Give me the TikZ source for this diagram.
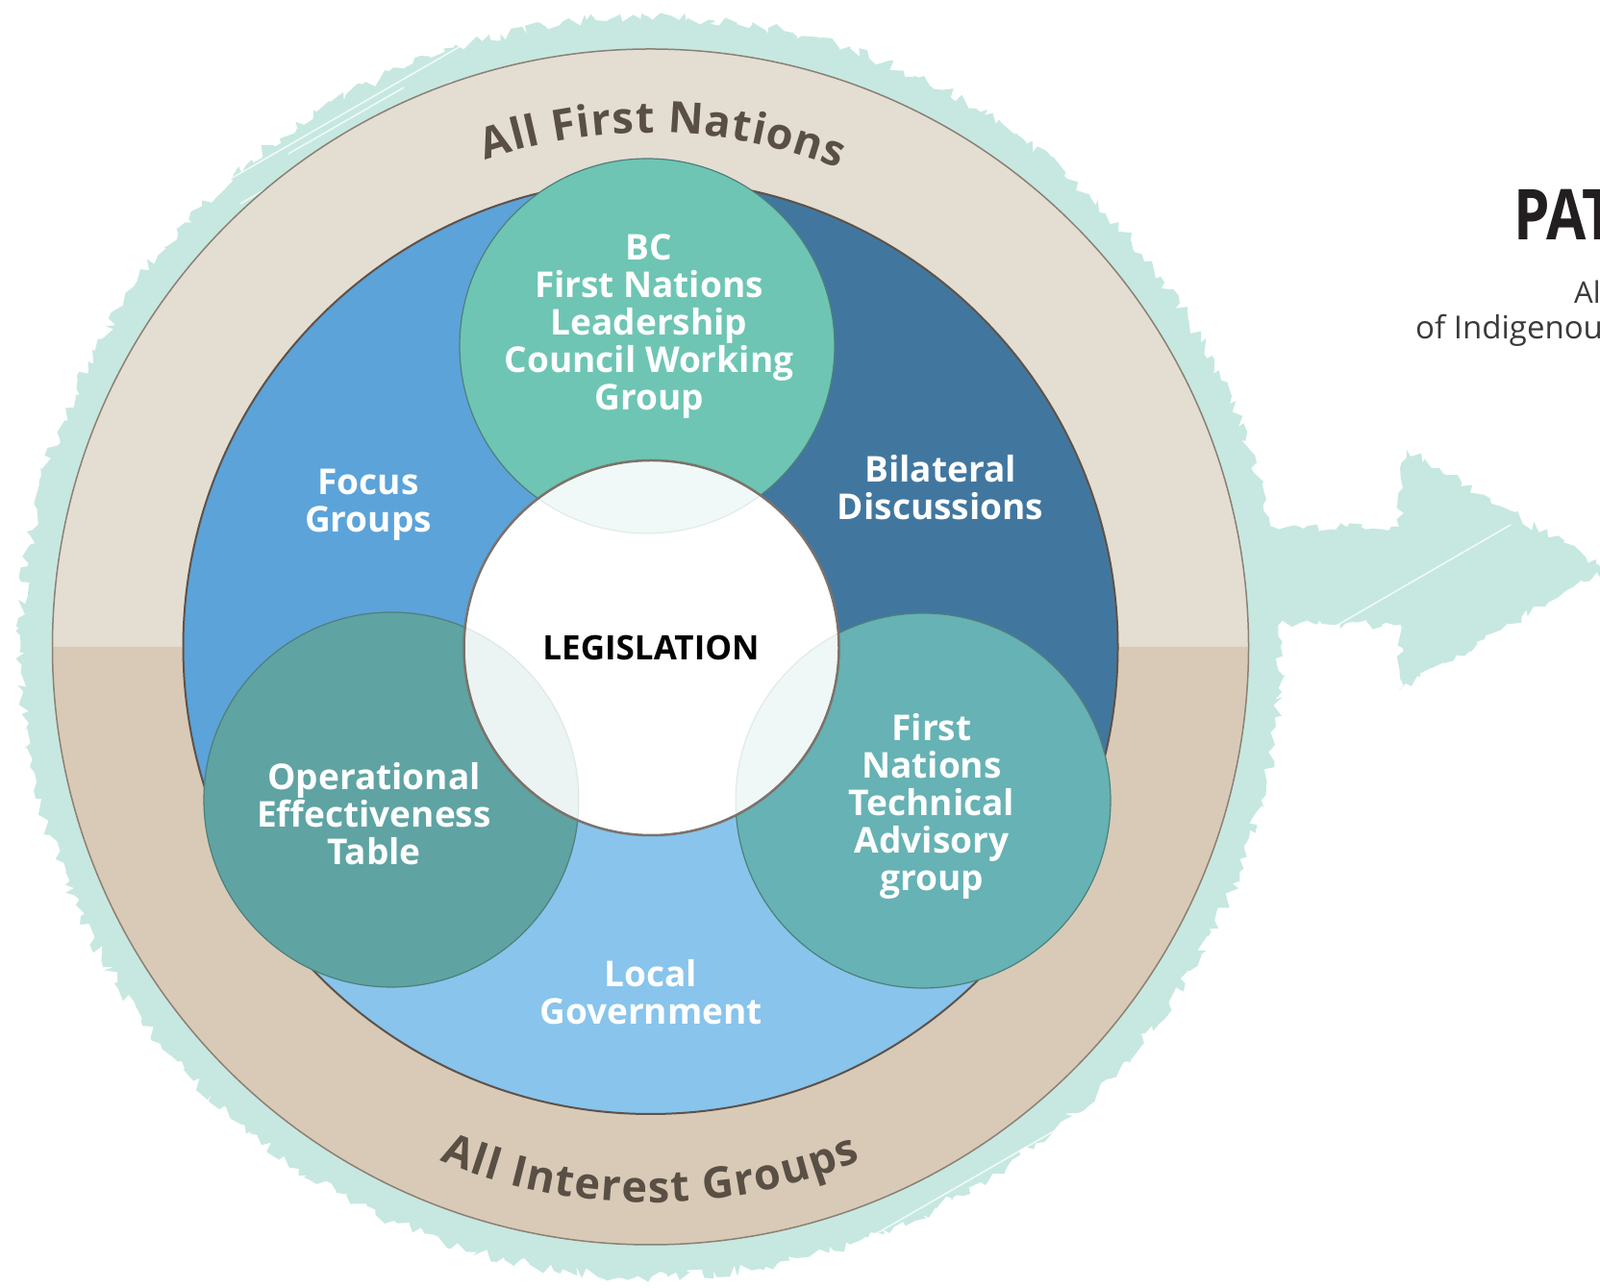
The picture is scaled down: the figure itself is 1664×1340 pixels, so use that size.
\documentclass[tikz,border=0pt]{standalone}
\usepackage{fontspec}
\setmainfont{Open Sans}
\usetikzlibrary{calc,decorations.pathmorphing}
\definecolor{mint}{HTML}{C6E8E0}
\definecolor{ringtop}{HTML}{E4DDD2}
\definecolor{ringbot}{HTML}{D8CAB6}
\definecolor{ringline}{HTML}{8C8075}
\definecolor{ringtxt}{HTML}{5A4F45}
\definecolor{bluemid}{HTML}{5BA3D9}
\definecolor{bluedark}{HTML}{41779F}
\definecolor{bluelight}{HTML}{88C4EC}
\definecolor{diskline}{HTML}{5E5249}
\definecolor{tealtop}{HTML}{6EC5B3}
\definecolor{tealleft}{HTML}{5FA3A3}
\definecolor{tealright}{HTML}{66B2B4}
\definecolor{tealline}{HTML}{4F7F7A}
\definecolor{centerline}{HTML}{7D716A}
\definecolor{titletxt}{HTML}{231F20}
\definecolor{subtxt}{HTML}{3A3A3A}
\newlength\rtlen
\newcommand{\ringfont}{\fontsize{45}{52}\selectfont\bfseries}
% measure: #1 font, #2 extra spacing, #3 chars, #4 key
\newcommand{\ringprep}[4]{%
  \gdef\rtw{0}%
  \foreach \ch [count=\k] in {#3}{%
    \settowidth\rtlen{#1\ch}%
    \pgfmathsetmacro\rtmid{\rtw+\rtlen/2}%
    \expandafter\xdef\csname rt#4-\k\endcsname{\rtmid}%
    \pgfmathsetmacro\rtnew{\rtw+\rtlen+#2}%
    \global\let\rtw\rtnew
  }%
  \pgfmathsetmacro\rtfull{\rtw-#2}%
  \expandafter\xdef\csname rt#4tot\endcsname{\rtfull}%
}
% place: #1 font, #2 radius, #3 centre angle, #4 chars, #5 dir (1 top, -1 bottom), #6 key
\newcommand{\ringtext}[6]{%
  \foreach \ch [count=\k] in {#4}{%
    \expandafter\let\expandafter\rtmidv\csname rt#6-\k\endcsname
    \expandafter\let\expandafter\rttotv\csname rt#6tot\endcsname
    \pgfmathsetmacro\rtang{#3+#5*(\rttotv/2-\rtmidv)/#2*180/pi}%
    \pgfmathsetmacro\rtrot{\rtang-#5*90}%
    \node[ringlbl, rotate=\rtrot, anchor=base] (#6-\k) at ($(C)+(\rtang:#2)$) {#1\ch};
  }%
}
\tikzset{
  ringlbl/.style={text=ringtxt, inner sep=0pt, outer sep=0pt},
  lbl/.style={text=white, font=\fontsize{37}{39}\selectfont\bfseries, align=center, inner sep=0pt},
  smallc/.style={draw=tealline, line width=1.2pt},
  streak/.style={white, line width=1.6pt, opacity=0.75, line cap=round},
}
\begin{document}%
\ringprep{\ringfont}{1}{A,l,l,\ ,F,i,r,s,t,\ ,N,a,t,i,o,n,s}{afn}%
\ringprep{\ringfont}{1.5}{A,l,l,\ ,I,n,t,e,r,e,s,t,\ ,G,r,o,u,p,s}{aig}%
\begin{tikzpicture}[x=1pt,y=1pt]
\useasboundingbox (0,0) rectangle (1664,1340);
\fill[white] (0,0) rectangle (1664,1340);
\coordinate (C) at (676.5,667);
% sketchy mint background circle and arrow
\fill[mint, decorate, decoration={random steps, segment length=6pt, amplitude=6pt}]
  (C) circle[radius=655];
\fill[mint, decorate, decoration={random steps, segment length=6pt, amplitude=5pt}]
  (1250,792) -- (1455,792) -- (1463,872) -- (1669,748) -- (1455,622) -- (1457,690) -- (1250,690) -- cycle;
% white streaks
\draw[streak] (226,1146) -- (486,1296);
\draw[streak] (250,1128) -- (470,1255);
\draw[streak] (300,1180) -- (420,1249);
\draw[streak] (900,50) -- (1120,177);
\draw[streak] (950,60) -- (1100,147);
\draw[streak] (1369,677) -- (1571,794);
% outer ring
\fill[ringtop] ($(C)+(622,0)$) arc[start angle=0, end angle=180, radius=622] -- cycle;
\fill[ringbot] ($(C)+(-622,0)$) arc[start angle=180, end angle=360, radius=622] -- cycle;
\draw[ringline, line width=1.5pt] (C) circle[radius=622];
% blue disk sectors
\fill[bluemid] (C) -- ($(C)+(90:486)$) arc[start angle=90, end angle=210, radius=486] -- cycle;
\fill[bluedark] (C) -- ($(C)+(-30:486)$) arc[start angle=-30, end angle=90, radius=486] -- cycle;
\fill[bluelight] (C) -- ($(C)+(210:486)$) arc[start angle=210, end angle=330, radius=486] -- cycle;
\draw[diskline, line width=2pt] (C) circle[radius=486];
% small circles
\coordinate (T) at (673,980);
\coordinate (L) at (407,508);
\coordinate (R) at (960,507);
\coordinate (M) at (677.5,666);
\fill[tealtop, smallc] (T) circle[radius=195];
\fill[tealleft, smallc] (L) circle[radius=195];
\fill[tealright, smallc] (R) circle[radius=195];
% centre circle
\fill[white] (M) circle[radius=195];
\begin{scope}
  \clip (M) circle[radius=195];
  \fill[tealtop, opacity=0.1] (T) circle[radius=195];
  \fill[tealleft, opacity=0.12] (L) circle[radius=195];
  \fill[tealright, opacity=0.1] (R) circle[radius=195];
  \draw[tealline, opacity=0.12, line width=1.2pt] (T) circle[radius=195] (L) circle[radius=195] (R) circle[radius=195];
\end{scope}
\draw[centerline, line width=2.5pt] (M) circle[radius=195];
% labels
\node[lbl] (bc) at (675,1000) {BC\\First Nations\\Leadership\\Council Working\\Group};
\node[lbl] (focus) at (383,815) {Focus\\Groups};
\node[lbl] (bilat) at (978,833) {Bilateral\\Discussions};
\node[inner sep=0pt, font=\fontsize{35}{40}\selectfont\bfseries, text=black] (leg) at (677,666) {LEGISLATION};
\node[lbl] (oper) at (389,493) {Operational\\Effectiveness\\Table};
\node[lbl] (fntech) at (969,501) {First\\Nations\\Technical\\Advisory\\group};
\node[lbl] (local) at (677,308) {Local\\Government};
% ring texts
\ringtext{\ringfont}{535}{88.6}{A,l,l,\ ,F,i,r,s,t,\ ,N,a,t,i,o,n,s}{1}{afn}
\ringtext{\ringfont}{578}{270}{A,l,l,\ ,I,n,t,e,r,e,s,t,\ ,G,r,o,u,p,s}{-1}{aig}
% right side texts
\node[anchor=base west, inner sep=0pt, text=titletxt, font=\fontsize{73}{80}\selectfont\bfseries] (title) at (1574,1090) {\scalebox{0.82}[1]{PAT}};
\node[anchor=base west, inner sep=0pt, text=subtxt, font=\fontsize{31}{36}\selectfont] (sub1) at (1637,1024) {Al};
\node[anchor=base west, inner sep=0pt, text=subtxt, font=\fontsize{33}{38}\selectfont] (sub2) at (1472,987) {of Indigenou};
\end{tikzpicture}
\end{document}
